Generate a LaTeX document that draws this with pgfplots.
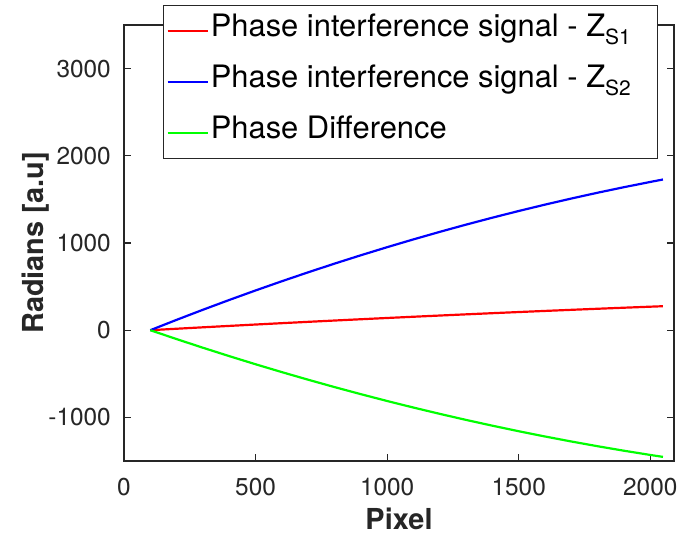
\documentclass[border=0pt]{standalone}
\usepackage{fontspec}
\setmainfont{TeX Gyre Heros}
\usepackage{pgfplots}
\pgfplotsset{compat=1.18}
\usetikzlibrary{calc}
\definecolor{axgray}{gray}{0.15}
\definecolor{pgreen}{rgb}{0,1,0}
\newcommand{\sub}[1]{\raisebox{-0.5ex}{\fontsize{21}{23}\selectfont #1}}
\begin{document}
\begin{tikzpicture}
\begin{axis}[scale only axis, width=550bp, height=436bp,
  xmin=0, xmax=2090, ymin=-1500, ymax=3500,
  xtick={0,500,1000,1500,2000}, ytick={-1000,0,1000,2000,3000},
  tick align=inside, tick pos=both, major tick length=7bp,
  axis line style={axgray, line width=1.3bp},
  every tick/.style={axgray, line width=1.3bp},
  /pgf/number format/assume math mode=true,
  /pgf/number format/1000 sep={},
  tick label style={font=\fontsize{24.5}{28}\selectfont, text=axgray},
  yticklabel style={inner sep=0pt, xshift=-13bp},
  xticklabel style={inner sep=0pt, yshift=-17bp},
  xlabel={Pixel}, ylabel={Radians [a.u]},
  label style={font=\fontsize{29}{32}\selectfont\bfseries, text=axgray},
  xlabel style={at={(axis description cs:0.5,-0.156)}, anchor=base},
  ylabel style={at={(axis description cs:-0.147,0.5)}, anchor=base},
  legend style={at={(0.0709,1.0459)}, anchor=north west, draw=axgray, line width=1.3bp,
    font=\fontsize{31}{34}\selectfont, inner xsep=3bp, inner ysep=6.5bp, row sep=13bp,
    nodes={inner sep=2bp, text height=22bp, text depth=12bp}},
  legend cell align=left,
  legend image code/.code={\draw[#1, line width=2.2bp] (0bp,0bp) -- (40bp,0bp);},
]
\coordinate (bl) at (rel axis cs:0,0);
\coordinate (tr) at (rel axis cs:1,1);
\addplot[red, line width=2.2bp] coordinates {
(100,0) (200,16.65) (300,33.03) (400,49.14) (500,64.97) (600,80.52) (700,95.80) (800,110.81)
(900,125.54) (1000,140.0) (1100,154.18) (1200,168.09) (1300,181.72) (1400,195.08) (1500,208.17)
(1600,220.98) (1700,233.52) (1800,245.78) (1900,257.77) (2000,269.48) (2048,275.0)};
\addlegendentry{Phase interference signal - Z\sub{S1}\hspace*{22bp}}
\addplot[blue, line width=2.2bp] coordinates {
(100,0) (200,118.8) (300,234.4) (400,346.7) (500,455.7) (600,561.5) (700,664.0) (800,763.3)
(900,859.3) (1000,952.0) (1100,1041.5) (1200,1127.7) (1300,1210.7) (1400,1290.4) (1500,1366.9)
(1600,1440.1) (1700,1510.0) (1800,1576.7) (1900,1640.1) (2000,1700.3) (2048,1728.0)};
\addlegendentry{Phase interference signal - Z\sub{S2}}
\addplot[pgreen, line width=2.2bp] coordinates {
(100,0) (200,-102.2) (300,-201.3) (400,-297.5) (500,-390.7) (600,-481.0) (700,-568.2) (800,-652.5)
(900,-733.7) (1000,-812.0) (1100,-887.3) (1200,-959.6) (1300,-1029.0) (1400,-1095.3) (1500,-1158.7)
(1600,-1219.1) (1700,-1276.5) (1800,-1330.9) (1900,-1382.3) (2000,-1430.8) (2048,-1453.0)};
\addlegendentry{Phase Difference}
\end{axis}
\pgfresetboundingbox
\path ($(bl)+(-124bp,-79bp)$) rectangle ($(tr)+(5bp,25bp)$);
\end{tikzpicture}
\end{document}
